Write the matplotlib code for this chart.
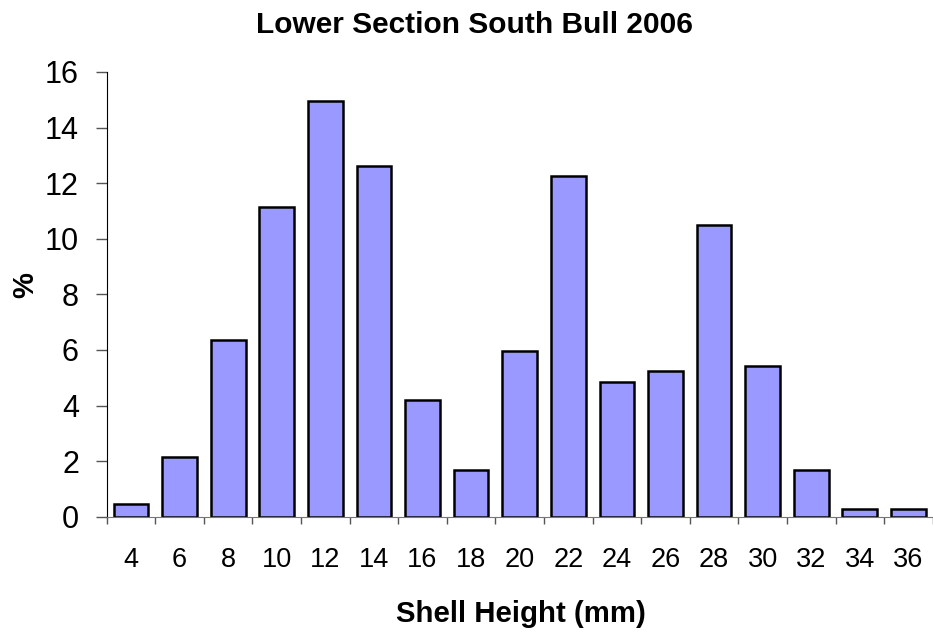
import matplotlib.pyplot as plt
import numpy as np

plt.rcParams['font.family'] = ['Liberation Sans', 'DejaVu Sans']

# ========== DONNÉES ==========
hauteurs = ['4', '6', '8', '10', '12', '14', '16', '18', '20',
            '22', '24', '26', '28', '30', '32', '34', '36']
pourcent = [0.46, 2.16, 6.36, 11.13, 14.97, 12.62, 4.2, 1.68, 5.97,
            12.25, 4.86, 5.23, 10.49, 5.42, 1.68, 0.27, 0.27]

x = np.arange(len(hauteurs))

fig = plt.figure(figsize=(9.33, 6.33), dpi=100)
ax = fig.add_axes([0.1144, 0.1837, 0.8853, 0.7026])

ax.bar(x, pourcent, width=0.714, color='#9999FF', edgecolor='black', linewidth=1.8)

ax.set_xlim(-0.5, len(hauteurs) - 0.5)
ax.set_ylim(0, 16)
ax.set_yticks(np.arange(0, 17, 2))
ax.set_xticks(x)
ax.set_xticklabels(hauteurs)
ax.set_xticks(np.arange(-0.5, len(hauteurs), 1), minor=True)

ax.tick_params(axis='x', which='major', length=0, pad=22, labelsize=19.5)
ax.tick_params(axis='x', which='minor', length=5, width=1, color='#555555', direction='out')
ax.tick_params(axis='y', length=8, width=1, color='#555555', pad=12, labelsize=22)

ax.spines['top'].set_visible(False)
ax.spines['right'].set_visible(False)
ax.spines['left'].set_color('black')
ax.spines['bottom'].set_color('#777777')

# titres placés dans la figure
fig.text(474 / 933, 1 - 33.3 / 633, "Lower Section South Bull 2006",
         fontsize=21.5, fontweight='bold', ha='center', va='baseline')
fig.text(521 / 933, 1 - 621.7 / 633, "Shell Height (mm)",
         fontsize=21.2, fontweight='bold', ha='center', va='baseline')
fig.text(25 / 933, 1 - 285.5 / 633, "%", fontsize=21, fontweight='bold',
         rotation=90, ha='center', va='center')

plt.savefig("out.png", dpi=100)
